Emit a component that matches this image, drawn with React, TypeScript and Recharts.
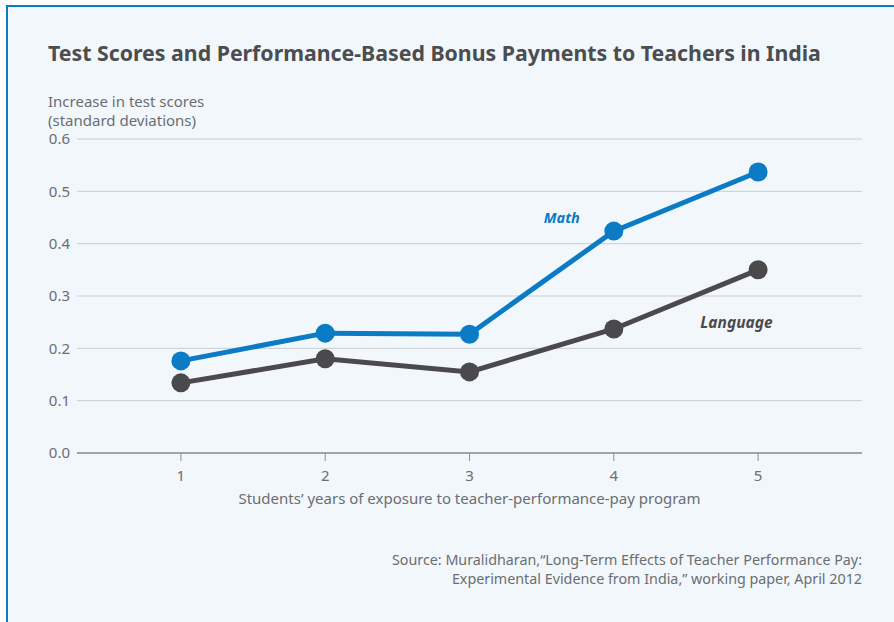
import React from "react"
import {
  LineChart,
  Line,
  XAxis,
  YAxis,
  CartesianGrid,
  ReferenceDot,
} from "recharts"

// years of exposure
const years = [1, 2, 3, 4, 5]
// increase in test scores (standard deviations)
const mathScores = [0.176, 0.229, 0.227, 0.424, 0.537]
const languageScores = [0.134, 0.18, 0.155, 0.237, 0.35]
const yTicks = [0, 0.1, 0.2, 0.3, 0.4, 0.5, 0.6]

const data = years.map((year, i) => ({
  year,
  math: mathScores[i],
  language: languageScores[i],
}))

const FONT = "'Noto Sans', sans-serif"
const BLUE = "#0a7bc4"
const DARK = "#4a4a4d"
const TEXT = "#6b6e72"

export default function App() {
  return (
    <div
      style={{
        position: "fixed",
        left: 0,
        top: 0,
        width: 894,
        height: 622,
        background: "#ffffff",
        overflow: "hidden",
        fontFamily: FONT,
      }}
    >
      <div
        style={{
          position: "absolute",
          left: 6,
          top: 5,
          width: 920,
          height: 640,
          background: "#f2f7fb",
          borderTop: `2px solid ${BLUE}`,
          borderLeft: `2px solid ${BLUE}`,
        }}
      />
      <div
        style={{
          position: "absolute",
          left: 48,
          top: 38,
          fontSize: 21.3,
          fontWeight: 700,
          color: "#4b4d50",
          whiteSpace: "nowrap",
        }}
      >
        Test Scores and Performance-Based Bonus Payments to Teachers in India
      </div>
      <div
        style={{
          position: "absolute",
          left: 48,
          top: 92,
          fontSize: 15,
          lineHeight: "19px",
          color: TEXT,
        }}
      >
        Increase in test scores
        <br />
        (standard deviations)
      </div>
      <div style={{ position: "absolute", left: 0, top: 0 }}>
        <LineChart
          width={894}
          height={622}
          data={data}
          margin={{ top: 139, right: 32, left: 27, bottom: 139 }}
        >
          <CartesianGrid vertical={false} stroke="#c9cccf" strokeWidth={1} />
          <XAxis
            dataKey="year"
            type="number"
            domain={[0.28, 5.72]}
            ticks={years}
            axisLine={{ stroke: "#8c8f93", strokeWidth: 1.5 }}
            tickLine={{ stroke: "#8c8f93" }}
            tickSize={8}
            tickMargin={9}
            tick={{ fontSize: 15, fill: TEXT, fontFamily: FONT }}
            height={30}
          />
          <YAxis
            domain={[0, 0.6]}
            ticks={yTicks}
            tickFormatter={(v: number) => v.toFixed(1)}
            axisLine={false}
            tickLine={false}
            tickSize={0}
            tickMargin={7}
            width={50}
            tick={{ fontSize: 15, fill: TEXT, fontFamily: FONT }}
          />
          <Line
            dataKey="language"
            stroke={DARK}
            strokeWidth={5}
            dot={{ r: 9.5, fill: DARK, stroke: "none" }}
            activeDot={false}
            isAnimationActive={false}
          />
          <Line
            dataKey="math"
            stroke={BLUE}
            strokeWidth={5}
            dot={{ r: 9.5, fill: BLUE, stroke: "none" }}
            activeDot={false}
            isAnimationActive={false}
          />
          <ReferenceDot
            x={3.64}
            y={0.449}
            r={0}
            stroke="none"
            fill="none"
            label={{
              value: "Math",
              position: "center",
              fill: BLUE,
              fontSize: 14.5,
              fontWeight: 700,
              fontStyle: "italic",
              fontFamily: FONT,
            }}
          />
          <ReferenceDot
            x={4.85}
            y={0.25}
            r={0}
            stroke="none"
            fill="none"
            label={{
              value: "Language",
              position: "center",
              fill: DARK,
              fontSize: 15.5,
              fontWeight: 700,
              fontStyle: "italic",
              fontFamily: FONT,
            }}
          />
        </LineChart>
      </div>
      <div
        style={{
          position: "absolute",
          left: 77,
          width: 785,
          top: 488,
          textAlign: "center",
          fontSize: 15,
          color: TEXT,
        }}
      >
        Students’ years of exposure to teacher-performance-pay program
      </div>
      <div
        style={{
          position: "absolute",
          right: 894 - 862,
          top: 550,
          textAlign: "right",
          fontSize: 14.3,
          lineHeight: "19px",
          color: TEXT,
        }}
      >
        Source: Muralidharan,“Long-Term Effects of Teacher Performance Pay:
        <br />
        Experimental Evidence from India,” working paper, April 2012
      </div>
    </div>
  )
}
